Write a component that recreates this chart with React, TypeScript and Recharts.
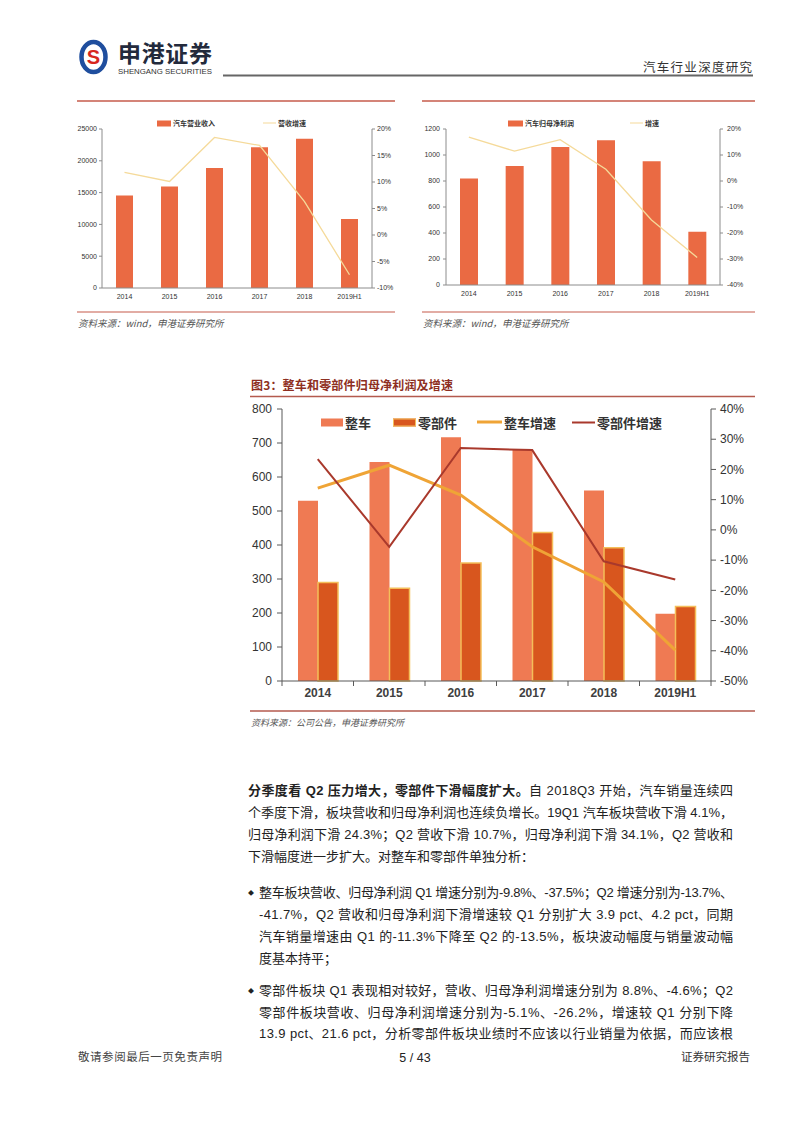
import React from 'react';
import { ComposedChart, Bar, Line, XAxis, YAxis, Legend } from 'recharts';

// categories
const years = ['2014', '2015', '2016', '2017', '2018', '2019H1'];

// fig 1: 汽车营业收入 / 营收增速
const revenue = [14540, 15950, 18880, 22120, 23480, 10830];
const revenueGrowth = [11.8, 10.1, 18.4, 16.9, 6.3, -7.5];
const revenueTicks = [0, 5000, 10000, 15000, 20000, 25000];
const revenueGrowthTicks = [-10, -5, 0, 5, 10, 15, 20];

// fig 2: 汽车归母净利润 / 增速
const netProfit = [820, 915, 1062, 1113, 951, 410];
const netProfitGrowth = [16.9, 11.5, 15.9, 4.5, -15.0, -29.4];
const netProfitTicks = [0, 200, 400, 600, 800, 1000, 1200];
const netProfitGrowthTicks = [-40, -30, -20, -10, 0, 10, 20];

// fig 3: 整车和零部件归母净利润及增速
const vehicleProfit = [530, 644, 717, 680, 560, 198];
const partsProfit = [290, 273, 347, 437, 392, 219];
const vehicleGrowth = [13.8, 21.4, 11.5, -5.6, -17.2, -39.8];
const partsGrowth = [23.4, -5.6, 27.1, 26.4, -10.4, -16.4];
const profitTicks = [0, 100, 200, 300, 400, 500, 600, 700, 800];
const growthTicks = [-50, -40, -30, -20, -10, 0, 10, 20, 30, 40];

const revenueRows = years.map((year, i) => ({ year, revenue: revenue[i], growth: revenueGrowth[i] }));
const netProfitRows = years.map((year, i) => ({ year, profit: netProfit[i], growth: netProfitGrowth[i] }));
const segmentRows = years.map((year, i) => ({
  year,
  vehicle: vehicleProfit[i],
  parts: partsProfit[i],
  vehicleGrowth: vehicleGrowth[i],
  partsGrowth: partsGrowth[i],
}));

const LATIN = '"Liberation Sans", Arial, "Noto Sans CJK SC", sans-serif';
const CJK = '"Noto Sans CJK SC", "Liberation Sans", sans-serif';
const RED_LINE = '#C65B4B';
const pct = (v: number) => `${v}%`;

type LegendItem = { label: string; kind: 'bar' | 'line'; color: string; stroke?: string; left: number; w: number; h: number };

function makeLegend(items: LegendItem[], top: number, fontSize: number, gap: number) {
  return () => (
    <div style={{ position: 'relative', height: 0 }}>
      {items.map((it) => (
        <div key={it.label} style={{ position: 'absolute', left: it.left, top, display: 'flex', alignItems: 'center', transform: 'translateY(-50%)', whiteSpace: 'nowrap' }}>
          <span
            style={{
              display: 'inline-block',
              width: it.w,
              height: it.h,
              background: it.color,
              boxSizing: 'border-box',
              border: it.stroke ? `1.5px solid ${it.stroke}` : 'none',
            }}
          />
          <span style={{ marginLeft: gap, fontFamily: CJK, fontWeight: 700, fontSize, color: '#333', lineHeight: 1 }}>{it.label}</span>
        </div>
      ))}
    </div>
  );
}

const smallTick = { fontSize: 7, fill: '#333', fontFamily: LATIN };

function RevenueChart() {
  const legend = makeLegend(
    [
      { label: '汽车营业收入', kind: 'bar', color: '#EA6A43', left: 97, w: 14, h: 6 },
      { label: '营收增速', kind: 'line', color: '#F5DA9A', left: 203, w: 13, h: 1.5 },
    ],
    13,
    7,
    2,
  );
  return (
    <ComposedChart width={350} height={200} data={revenueRows} margin={{ top: 19, right: 8, bottom: 6, left: 0 }} barSize={17}>
      <XAxis dataKey="year" interval={0} height={16} tickLine={false} tickMargin={0} axisLine={{ stroke: '#8c8c8c' }} tick={smallTick} />
      <YAxis yAxisId="l" domain={[0, 25000]} ticks={revenueTicks} width={42} tickSize={3} tickMargin={2} axisLine={{ stroke: '#8c8c8c' }} tickLine={{ stroke: '#8c8c8c' }} tick={smallTick} />
      <YAxis yAxisId="r" orientation="right" domain={[-10, 20]} ticks={revenueGrowthTicks} tickFormatter={pct} width={30} tickSize={3} tickMargin={2} axisLine={{ stroke: '#8c8c8c' }} tickLine={{ stroke: '#8c8c8c' }} tick={smallTick} />
      <Bar yAxisId="l" dataKey="revenue" fill="#EA6A43" isAnimationActive={false} />
      <Line yAxisId="r" dataKey="growth" type="linear" stroke="#F5DA9A" strokeWidth={1.3} dot={false} isAnimationActive={false} />
      <Legend content={legend} wrapperStyle={{ top: 0, left: 0, width: 350 }} />
    </ComposedChart>
  );
}

function NetProfitChart() {
  const legend = makeLegend(
    [
      { label: '汽车归母净利润', kind: 'bar', color: '#EA6A43', left: 98, w: 15, h: 6 },
      { label: '增速', kind: 'line', color: '#F5DA9A', left: 220, w: 13, h: 1.5 },
    ],
    13,
    7,
    2,
  );
  return (
    <ComposedChart width={350} height={200} data={netProfitRows} margin={{ top: 19, right: 6, bottom: 9, left: 0 }} barSize={18}>
      <XAxis dataKey="year" interval={0} height={16} tickLine={false} tickMargin={0} axisLine={{ stroke: '#8c8c8c' }} tick={smallTick} />
      <YAxis yAxisId="l" domain={[0, 1200]} ticks={netProfitTicks} width={36} tickSize={3} tickMargin={3} axisLine={{ stroke: '#8c8c8c' }} tickLine={{ stroke: '#8c8c8c' }} tick={smallTick} />
      <YAxis yAxisId="r" orientation="right" domain={[-40, 20]} ticks={netProfitGrowthTicks} tickFormatter={pct} width={34} tickSize={3} tickMargin={4} axisLine={{ stroke: '#8c8c8c' }} tickLine={{ stroke: '#8c8c8c' }} tick={smallTick} />
      <Bar yAxisId="l" dataKey="profit" fill="#EA6A43" isAnimationActive={false} />
      <Line yAxisId="r" dataKey="growth" type="linear" stroke="#F5DA9A" strokeWidth={1.3} dot={false} isAnimationActive={false} />
      <Legend content={legend} wrapperStyle={{ top: 0, left: 0, width: 350 }} />
    </ComposedChart>
  );
}

const BAND = 429 / years.length;

function YearTick(props: any) {
  const { x, y, payload, index } = props;
  return (
    <g>
      <line x1={x - BAND / 2} x2={x - BAND / 2} y1={y} y2={y + 5} stroke="#595959" />
      {index === years.length - 1 && <line x1={x + BAND / 2} x2={x + BAND / 2} y1={y} y2={y + 5} stroke="#595959" />}
      <text x={x} y={y + 16} textAnchor="middle" fontSize={12} fontWeight={700} fill="#404040" fontFamily={LATIN}>
        {payload.value}
      </text>
    </g>
  );
}

const bigTick = { fontSize: 12, fill: '#333', fontFamily: LATIN };

function SegmentChart() {
  const legend = makeLegend(
    [
      { label: '整车', kind: 'bar', color: '#EF7A53', left: 81, w: 22, h: 8 },
      { label: '零部件', kind: 'bar', color: '#D8561E', stroke: '#F4BE5A', left: 153, w: 23, h: 8 },
      { label: '整车增速', kind: 'line', color: '#EFA436', left: 237, w: 25, h: 3 },
      { label: '零部件增速', kind: 'line', color: '#A9392C', left: 332, w: 23, h: 2 },
    ],
    24,
    13,
    2,
  );
  return (
    <ComposedChart width={520} height={310} data={segmentRows} margin={{ top: 11, right: 4, bottom: 2, left: 0 }} barSize={20} barGap={0}>
      <XAxis dataKey="year" interval={0} height={25} tickLine={false} tickSize={0} tickMargin={0} axisLine={{ stroke: '#595959' }} tick={<YearTick />} />
      <YAxis yAxisId="l" domain={[0, 800]} ticks={profitTicks} width={42} tickSize={5} tickMargin={5} axisLine={{ stroke: '#595959' }} tickLine={{ stroke: '#595959' }} tick={bigTick} />
      <YAxis yAxisId="r" orientation="right" domain={[-50, 40]} ticks={growthTicks} tickFormatter={pct} width={45} tickSize={5} tickMargin={4} axisLine={{ stroke: '#595959' }} tickLine={{ stroke: '#595959' }} tick={bigTick} />
      <Bar yAxisId="l" dataKey="vehicle" fill="#EF7A53" isAnimationActive={false} />
      <Bar yAxisId="l" dataKey="parts" fill="#D8561E" stroke="#F4BE5A" strokeWidth={1.5} isAnimationActive={false} />
      <Line yAxisId="r" dataKey="vehicleGrowth" type="linear" stroke="#EFA436" strokeWidth={3} dot={false} isAnimationActive={false} />
      <Line yAxisId="r" dataKey="partsGrowth" type="linear" stroke="#A9392C" strokeWidth={2} dot={false} isAnimationActive={false} />
      <Legend content={legend} wrapperStyle={{ top: 0, left: 0, width: 520 }} />
    </ComposedChart>
  );
}

// body text, one entry per printed line
const paraLines = [
  '个季度下滑，板块营收和归母净利润也连续负增长。19Q1 汽车板块营收下滑 4.1%，',
  '归母净利润下滑 24.3%；Q2 营收下滑 10.7%，归母净利润下滑 34.1%，Q2 营收和',
  '下滑幅度进一步扩大。对整车和零部件单独分析：',
];
const bullet1Lines = [
  '整车板块营收、归母净利润 Q1 增速分别为-9.8%、-37.5%；Q2 增速分别为-13.7%、',
  '-41.7%，Q2 营收和归母净利润下滑增速较 Q1 分别扩大 3.9 pct、4.2 pct，同期',
  '汽车销量增速由 Q1 的-11.3%下降至 Q2 的-13.5%，板块波动幅度与销量波动幅',
  '度基本持平；',
];
const bullet2Lines = [
  '零部件板块 Q1 表现相对较好，营收、归母净利润增速分别为 8.8%、-4.6%；Q2',
  '零部件板块营收、归母净利润增速分别为-5.1%、-26.2%，增速较 Q1 分别下降',
  '13.9 pct、21.6 pct，分析零部件板块业绩时不应该以行业销量为依据，而应该根',
];

function BodyLine({ x, y, width, text, last }: { x: number; y: number; width: number; text: string; last?: boolean }) {
  return (
    <text x={x} y={y} fontSize={13} fill="#222" fontFamily={LATIN} {...(last ? {} : { textLength: width, lengthAdjust: 'spacing' })}>
      {text}
    </text>
  );
}

function PageText() {
  const b1 = [897, 919, 941, 963];
  const b2 = [995, 1017, 1038];
  return (
    <svg width={802} height={1133} style={{ position: 'absolute', left: 0, top: 0 }}>
      {/* header */}
      <ellipse cx={93.5} cy={57} rx={12} ry={15} fill="#fff" stroke="#1F4E9E" strokeWidth={4.5} />
      <text x={93.5} y={64} textAnchor="middle" fontSize={20} fontWeight={700} fill="#D7261E" fontFamily={LATIN}>S</text>
      <text x={118} y={62} fontSize={23} fontWeight={700} fill="#232a3c" fontFamily={CJK} textLength={94} lengthAdjust="spacing">申港证券</text>
      <text x={118} y={74} fontSize={6.5} fill="#333" fontFamily={LATIN} textLength={94} lengthAdjust="spacingAndGlyphs">SHENGANG SECURITIES</text>
      <line x1={223} x2={753} y1={75.5} y2={75.5} stroke="#666" strokeWidth={1.8} />
      <text x={752} y={71.5} textAnchor="end" fontSize={12.5} fill="#333" fontFamily={CJK} textLength={109} lengthAdjust="spacing">汽车行业深度研究</text>

      {/* top charts frames */}
      <line x1={77} x2={395} y1={101} y2={101} stroke={RED_LINE} strokeWidth={1.5} />
      <line x1={422} x2={755} y1={101} y2={101} stroke={RED_LINE} strokeWidth={1.5} />
      <line x1={77} x2={395} y1={312} y2={312} stroke={RED_LINE} strokeWidth={1.2} />
      <line x1={422} x2={755} y1={312} y2={312} stroke={RED_LINE} strokeWidth={1.2} />
      <text x={78} y={326.5} fontSize={9.5} fontStyle="italic" fill="#555" fontFamily={CJK}>资料来源：wind，申港证券研究所</text>
      <text x={423} y={326.5} fontSize={9.5} fontStyle="italic" fill="#555" fontFamily={CJK}>资料来源：wind，申港证券研究所</text>

      {/* fig 3 frame */}
      <text x={251} y={389.5} fontSize={12} fontWeight={700} fill="#8E2F22" fontFamily={CJK} textLength={202} lengthAdjust="spacing">图3：整车和零部件归母净利润及增速</text>
      <line x1={250} x2={755} y1={396.5} y2={396.5} stroke="#B45A4E" strokeWidth={1.5} />
      <line x1={250} x2={755} y1={711} y2={711} stroke="#B45A4E" strokeWidth={1.5} />
      <text x={251} y={725.5} fontSize={9} fontStyle="italic" fill="#555" fontFamily={CJK}>资料来源：公司公告，申港证券研究所</text>

      {/* body */}
      <text x={248} y={795} fontSize={13} fill="#222" fontFamily={LATIN} textLength={485} lengthAdjust="spacing">
        <tspan fontWeight={700}>分季度看 Q2 压力增大，零部件下滑幅度扩大。</tspan>
        <tspan>自 2018Q3 开始，汽车销量连续四</tspan>
      </text>
      {paraLines.map((t, i) => (
        <BodyLine key={t} x={248} y={817 + i * 21.8} width={485} text={t} last={i === paraLines.length - 1} />
      ))}
      <text x={248} y={895} fontSize={6} fill="#222" fontFamily={CJK}>◆</text>
      {bullet1Lines.map((t, i) => (
        <BodyLine key={t} x={259} y={b1[i]} width={474} text={t} last={i === bullet1Lines.length - 1} />
      ))}
      <text x={248} y={993} fontSize={6} fill="#222" fontFamily={CJK}>◆</text>
      {bullet2Lines.map((t, i) => (
        <BodyLine key={t} x={259} y={b2[i]} width={474} text={t} />
      ))}

      {/* footer */}
      <text x={78} y={1061} fontSize={11.5} fill="#444" fontFamily={CJK} textLength={144} lengthAdjust="spacing">敬请参阅最后一页免责声明</text>
      <text x={415} y={1061.5} textAnchor="middle" fontSize={12.5} fill="#222" fontFamily={'"Liberation Sans Narrow", "Liberation Sans", sans-serif'}>5 / 43</text>
      <text x={750} y={1061} textAnchor="end" fontSize={11.5} fill="#333" fontFamily={CJK}>证券研究报告</text>
    </svg>
  );
}

export default function App() {
  return (
    <div style={{ position: 'absolute', left: 0, top: 0, width: 802, height: 1133, background: '#fff', overflow: 'hidden' }}>
      <PageText />
      <div style={{ position: 'absolute', left: 60, top: 110 }}>
        <RevenueChart />
      </div>
      <div style={{ position: 'absolute', left: 410, top: 110 }}>
        <NetProfitChart />
      </div>
      <div style={{ position: 'absolute', left: 240, top: 398 }}>
        <SegmentChart />
      </div>
    </div>
  );
}
